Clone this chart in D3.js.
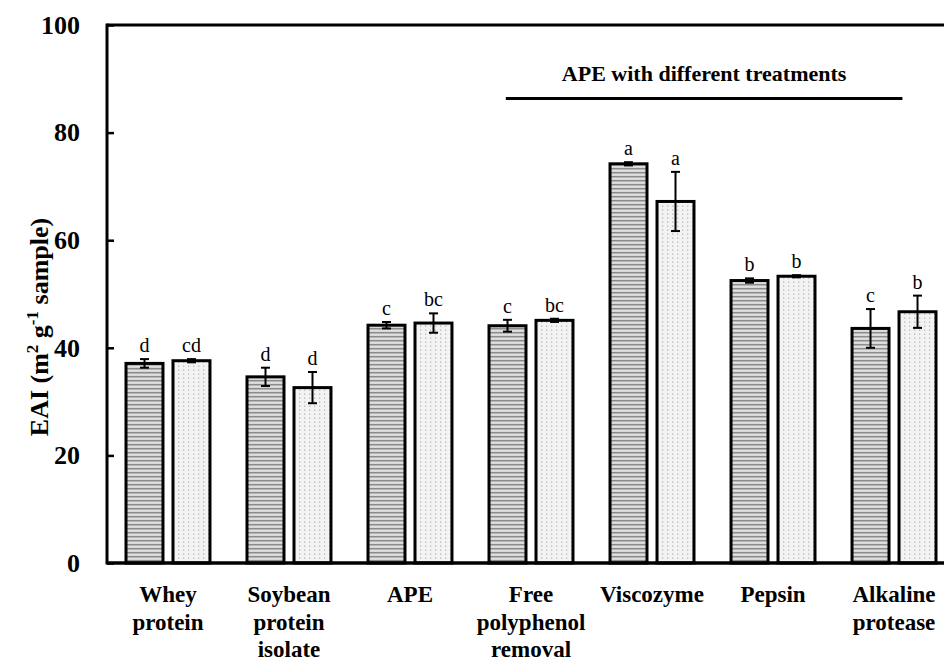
<!DOCTYPE html>
<html>
<head>
<meta charset="utf-8">
<script src="https://cdn.jsdelivr.net/npm/d3@7"></script>
<style>
  body { margin: 0; background: #fff; }
  svg { display: block; }
  text { font-family: "Liberation Serif", "Times New Roman", serif; }
</style>
</head>
<body>
<div id="chart"></div>
<script>
// data
var groups = ["Whey protein", "Soybean protein isolate", "APE", "Free polyphenol removal", "Viscozyme", "Pepsin", "Alkaline protease"];
var groupLines = [["Whey", "protein"], ["Soybean", "protein", "isolate"], ["APE"], ["Free", "polyphenol", "removal"], ["Viscozyme"], ["Pepsin"], ["Alkaline", "protease"]];
var series = ["s1", "s2"];
var values1 = [37.1, 34.6, 44.2, 44.1, 74.2, 52.5, 43.6];
var errors1 = [0.8, 1.7, 0.6, 1.1, 0.3, 0.4, 3.6];
var values2 = [37.6, 32.6, 44.6, 45.1, 67.2, 53.3, 46.7];
var errors2 = [0.3, 2.9, 1.8, 0.3, 5.5, 0.2, 3.0];
var letters1 = ["d", "d", "c", "c", "a", "b", "c"];
var letters2 = ["cd", "d", "bc", "bc", "a", "b", "b"];
var yTicks = [0, 20, 40, 60, 80, 100];

var W = 944, H = 662;
var mLeft = 107, mTop = 25, mBottom = 563;

var svg = d3.select("#chart").append("svg")
  .attr("width", W)
  .attr("height", H);

// fill patterns
var defs = svg.append("defs");
var p1 = defs.append("pattern").attr("id", "stripes")
  .attr("patternUnits", "userSpaceOnUse").attr("width", 8).attr("height", 4);
p1.append("rect").attr("width", 8).attr("height", 4).attr("fill", "#cfcfcf");
p1.append("rect").attr("y", 0).attr("width", 8).attr("height", 1.4).attr("fill", "#8c8c8c");
p1.append("rect").attr("y", 2.4).attr("width", 8).attr("height", 0.9).attr("fill", "#ececec");

var p2 = defs.append("pattern").attr("id", "dots")
  .attr("patternUnits", "userSpaceOnUse").attr("width", 5).attr("height", 4);
p2.append("rect").attr("width", 5).attr("height", 4).attr("fill", "#f3f3f3");
p2.append("rect").attr("x", 2).attr("y", 1.5).attr("width", 1.3).attr("height", 1.3).attr("fill", "#b8b8b8");

// scales
var x0 = d3.scaleBand().domain(groups).range([mLeft, 955])
  .paddingInner(0.306).paddingOuter(0.157);
var x1 = d3.scaleBand().domain(series).range([0, x0.bandwidth()])
  .paddingInner(0.213).paddingOuter(0);
var y = d3.scaleLinear().domain([0, 100]).range([mBottom, mTop]);

var data = groups.map(function (g, i) {
  return [
    { g: g, s: "s1", v: values1[i], e: errors1[i], l: letters1[i], fill: "url(#stripes)" },
    { g: g, s: "s2", v: values2[i], e: errors2[i], l: letters2[i], fill: "url(#dots)" }
  ];
});

// bars
var grp = svg.selectAll(".grp").data(data).enter().append("g")
  .attr("transform", function (d) { return "translate(" + x0(d[0].g) + ",0)"; });

grp.selectAll("rect").data(function (d) { return d; }).enter().append("rect")
  .attr("x", function (d) { return x1(d.s); })
  .attr("y", function (d) { return y(d.v); })
  .attr("width", x1.bandwidth())
  .attr("height", function (d) { return y(0) - y(d.v); })
  .attr("fill", function (d) { return d.fill; })
  .attr("stroke", "#000")
  .attr("stroke-width", 3);

// error bars
var eb = grp.selectAll(".err").data(function (d) { return d; }).enter().append("g");
eb.append("line")
  .attr("x1", function (d) { return x1(d.s) + x1.bandwidth() / 2; })
  .attr("x2", function (d) { return x1(d.s) + x1.bandwidth() / 2; })
  .attr("y1", function (d) { return y(d.v + d.e); })
  .attr("y2", function (d) { return y(d.v - d.e); })
  .attr("stroke", "#000").attr("stroke-width", 2);
eb.selectAll(".cap").data(function (d) { return [d.v + d.e, d.v - d.e].map(function (t) { return { d: d, t: t }; }); })
  .enter().append("line")
  .attr("x1", function (c) { return x1(c.d.s) + x1.bandwidth() / 2 - 4.5; })
  .attr("x2", function (c) { return x1(c.d.s) + x1.bandwidth() / 2 + 4.5; })
  .attr("y1", function (c) { return y(c.t); })
  .attr("y2", function (c) { return y(c.t); })
  .attr("stroke", "#000").attr("stroke-width", 2);

// significance letters
grp.selectAll(".lt").data(function (d) { return d; }).enter().append("text")
  .attr("x", function (d) { return x1(d.s) + x1.bandwidth() / 2; })
  .attr("y", function (d) { return y(d.v + d.e) - 7; })
  .attr("text-anchor", "middle")
  .style("font-size", "20px")
  .text(function (d) { return d.l; });

// y axis (ticks pointing inward)
var yAxis = svg.append("g")
  .attr("transform", "translate(" + mLeft + ",0)")
  .call(d3.axisLeft(y).tickValues(yTicks).tickSize(-7).tickPadding(27));
yAxis.select(".domain").remove();
yAxis.selectAll("line").attr("stroke", "#000").attr("stroke-width", 2.5);
yAxis.selectAll("text")
  .style("font-size", "26px").style("font-weight", "bold").attr("fill", "#000");

// frame: left, top, bottom
svg.append("line").attr("x1", mLeft).attr("x2", mLeft).attr("y1", mTop - 1.5).attr("y2", mBottom + 1.5)
  .attr("stroke", "#000").attr("stroke-width", 3);
svg.append("line").attr("x1", mLeft).attr("x2", W).attr("y1", mTop).attr("y2", mTop)
  .attr("stroke", "#000").attr("stroke-width", 3);
svg.append("line").attr("x1", mLeft).attr("x2", W).attr("y1", mBottom).attr("y2", mBottom)
  .attr("stroke", "#000").attr("stroke-width", 3.5);

// x category labels
var xl = svg.selectAll(".xl").data(groups).enter().append("text")
  .attr("text-anchor", "middle")
  .style("font-size", "23px").style("font-weight", "bold");
xl.each(function (g, i) {
  var t = d3.select(this);
  groupLines[i].forEach(function (line, k) {
    t.append("tspan")
      .attr("x", x0(g) + x0.bandwidth() / 2)
      .attr("y", 602 + k * 27.5)
      .text(line);
  });
});

// y axis title
var yt = svg.append("text")
  .attr("transform", "translate(48,327) rotate(-90)")
  .attr("text-anchor", "middle")
  .style("font-size", "26px").style("font-weight", "bold");
yt.append("tspan").text("EAI (m");
yt.append("tspan").attr("dy", -10).style("font-size", "17px").text("2");
yt.append("tspan").attr("dy", 10).text(" g");
yt.append("tspan").attr("dy", -10).style("font-size", "17px").text("-1");
yt.append("tspan").attr("dy", 10).text(" sample)");

// bracket for treatment groups
var bx1 = x0("Free polyphenol removal") + x0.bandwidth() * 0.2;
var bx2 = x0("Alkaline protease") + x0.bandwidth() * 0.6;
svg.append("line").attr("x1", bx1).attr("x2", bx2).attr("y1", 98.5).attr("y2", 98.5)
  .attr("stroke", "#000").attr("stroke-width", 3);
svg.append("text")
  .attr("x", (bx1 + bx2) / 2).attr("y", 81)
  .attr("text-anchor", "middle")
  .style("font-size", "22px").style("font-weight", "bold")
  .text("APE with different treatments");
</script>
</body>
</html>
